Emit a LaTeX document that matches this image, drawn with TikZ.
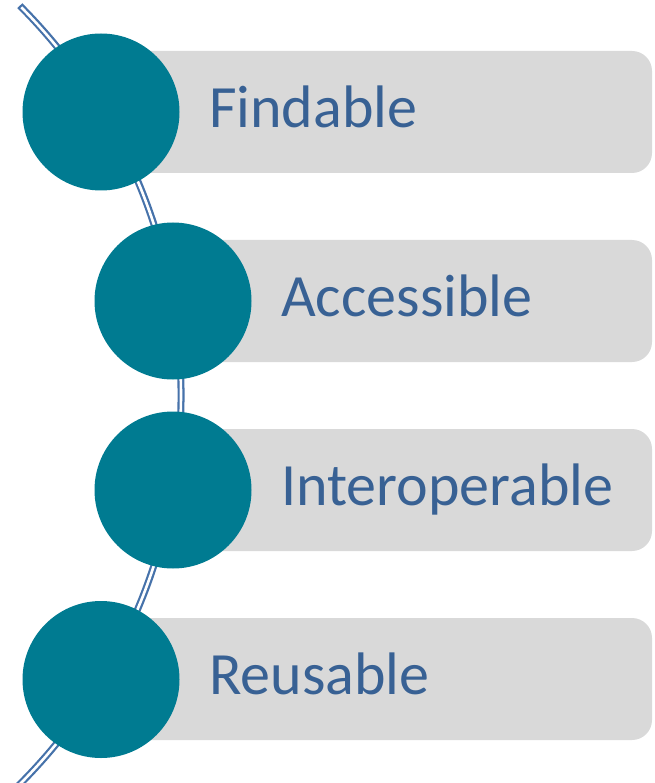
\documentclass[tikz,border=0pt]{standalone}
\usepackage{fontspec}
\setmainfont{Carlito}
\definecolor{circfill}{RGB}{0,123,145}
\definecolor{barfill}{RGB}{217,217,217}
\definecolor{txtblue}{RGB}{56,97,148}
\definecolor{arcblue}{RGB}{70,114,170}
\tikzset{
  dot/.style={circle,fill=circfill,draw=none,minimum size=157pt,inner sep=0pt},
  bar/.style={fill=barfill,draw=none,rounded corners=20pt},
  label/.style={anchor=base west,text=txtblue,font=\fontsize{60pt}{64pt}\selectfont,inner sep=0pt},
  railout/.style={draw=arcblue,line width=7pt},
  railin/.style={draw=white,line width=2.6pt}
}
\begin{document}
\begin{tikzpicture}[x=1pt,y=-1pt]
\useasboundingbox (0,0) rectangle (654,783);
% connector arc
\coordinate (top) at (19.8,5.7);
\coordinate (topin) at ({-369.5+550.5*cos(-44.77)},{395+550.5*sin(-44.77)});
\draw[railout] (top) arc[start angle=-45, end angle=48, radius=550.5];
\draw[railin] (topin) arc[start angle=-44.77, end angle=48.5, radius=550.5];
% bars
\fill[bar] (101,51) rectangle (652,173);
\fill[bar] (173,240) rectangle (652,362);
\fill[bar] (173,429) rectangle (652,551);
\fill[bar] (101,618) rectangle (652,740);
% circles
\node[dot] (c1) at (101,112) {};
\node[dot] (c2) at (173,301) {};
\node[dot] (c3) at (173,490) {};
\node[dot] (c4) at (101,679.5) {};
% labels
\node[label] (t1) at (209,127.5) {Findable};
\node[label] (t2) at (281,316.5) {Accessible};
\node[label] (t3) at (281,505.5) {Interoperable};
\node[label] (t4) at (209,694.5) {Reusable};
\end{tikzpicture}
\end{document}
